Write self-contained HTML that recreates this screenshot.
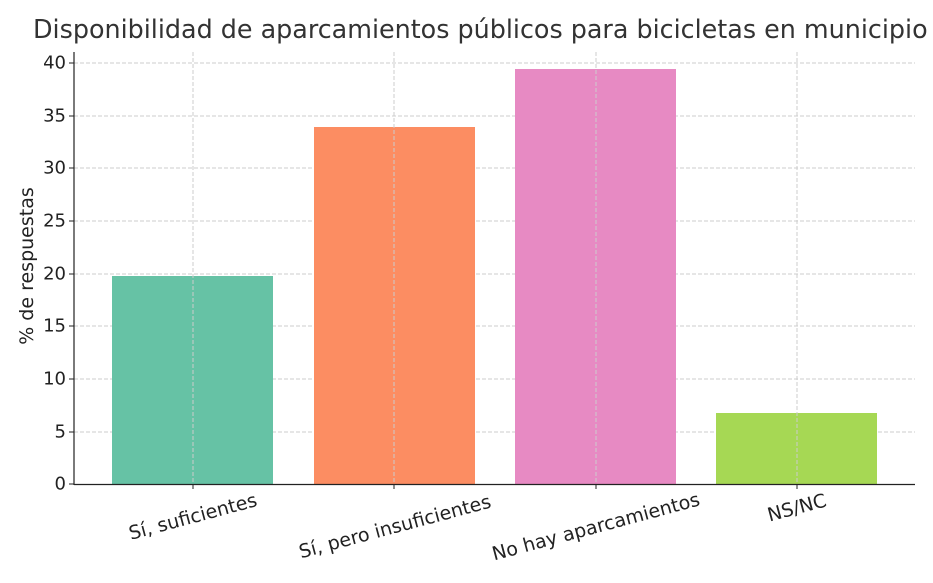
<!DOCTYPE html>
<html><head><meta charset="utf-8"><style>body{margin:0;background:#fff}svg{display:block}</style></head><body>
<svg width="933" height="583" xmlns="http://www.w3.org/2000/svg" font-family="DejaVu Sans, Liberation Sans, sans-serif">
<rect width="933" height="583" fill="#fff"/>
<text x="33" y="38" font-size="25.4" fill="#333">Disponibilidad de aparcamientos públicos para bicicletas en municipio</text>
<g stroke="#ccc" stroke-width="1" stroke-dasharray="4,2">
<line x1="74" x2="915" y1="63" y2="63"/><line x1="74" x2="915" y1="116" y2="116"/><line x1="74" x2="915" y1="168" y2="168"/><line x1="74" x2="915" y1="221" y2="221"/><line x1="74" x2="915" y1="274" y2="274"/><line x1="74" x2="915" y1="326" y2="326"/><line x1="74" x2="915" y1="379" y2="379"/><line x1="74" x2="915" y1="432" y2="432"/>
</g>
<rect x="112" y="276" width="161" height="208" fill="#66c2a5"/>
<rect x="314" y="127" width="161" height="357" fill="#fc8d62"/>
<rect x="515" y="69" width="161" height="415" fill="#e78ac3"/>
<rect x="716" y="413" width="161" height="71" fill="#a6d854"/>
<g stroke="#ccc" stroke-width="1" stroke-dasharray="4,2">
<line x1="193" x2="193" y1="52" y2="484"/><line x1="394" x2="394" y1="52" y2="484"/><line x1="596" x2="596" y1="52" y2="484"/><line x1="797" x2="797" y1="52" y2="484"/>
</g>
<line x1="74" x2="74" y1="52" y2="485" stroke="#222" stroke-width="1.2"/>
<line x1="74" x2="915" y1="484.5" y2="484.5" stroke="#222" stroke-width="1.2"/>
<g stroke="#222"><line x1="69" x2="74" y1="484" y2="484"/><line x1="69" x2="74" y1="432" y2="432"/><line x1="69" x2="74" y1="379" y2="379"/><line x1="69" x2="74" y1="326" y2="326"/><line x1="69" x2="74" y1="274" y2="274"/><line x1="69" x2="74" y1="221" y2="221"/><line x1="69" x2="74" y1="168" y2="168"/><line x1="69" x2="74" y1="116" y2="116"/><line x1="69" x2="74" y1="63" y2="63"/>
<line x1="193" x2="193" y1="484" y2="489"/><line x1="394" x2="394" y1="484" y2="489"/><line x1="596" x2="596" y1="484" y2="489"/><line x1="797" x2="797" y1="484" y2="489"/></g>
<g font-size="18" fill="#222" text-anchor="end" dominant-baseline="central">
<text x="66" y="484">0</text><text x="66" y="432">5</text><text x="66" y="379">10</text><text x="66" y="326">15</text><text x="66" y="274">20</text><text x="66" y="221">25</text><text x="66" y="168">30</text><text x="66" y="116">35</text><text x="66" y="63">40</text>
</g>
<text transform="translate(27,266) rotate(-90)" font-size="19" fill="#222" text-anchor="middle" dominant-baseline="central">% de respuestas</text>
<g font-size="19" fill="#222" text-anchor="middle" dominant-baseline="central">
<text transform="translate(193,517) rotate(-15)">Sí, suficientes</text>
<text transform="translate(395,527) rotate(-15)">Sí, pero insuficientes</text>
<text transform="translate(596,527) rotate(-15)">No hay aparcamientos</text>
<text transform="translate(797,508) rotate(-15)">NS/NC</text>
</g>
</svg>
</body></html>
